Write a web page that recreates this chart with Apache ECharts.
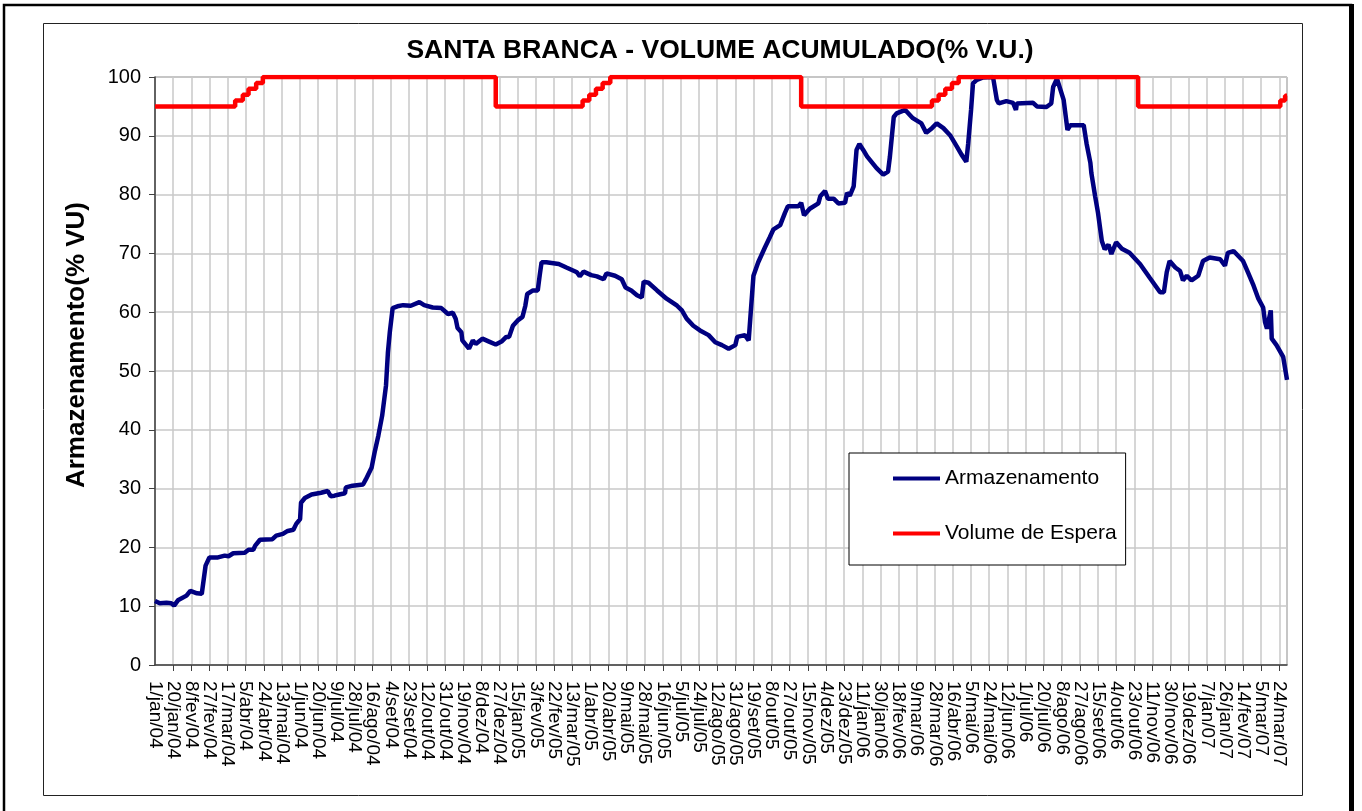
<!DOCTYPE html>
<html>
<head>
<meta charset="utf-8">
<title>Santa Branca - Volume Acumulado</title>
<script src="https://cdn.jsdelivr.net/npm/echarts@6.0.0/dist/echarts.min.js"></script>
<style>
    html, body { margin: 0; padding: 0; background: #fff; }
    #chart { width: 1362px; height: 811px; }
</style>
</head>
<body>
<div id="chart"></div>
<script>
// rótulos do eixo x, um a cada 19 dias a partir de 1/jan/04
var tickLabels = [
    '1/jan/04', '20/jan/04', '8/fev/04', '27/fev/04', '17/mar/04', '5/abr/04', '24/abr/04', '13/mai/04',
    '1/jun/04', '20/jun/04', '9/jul/04', '28/jul/04', '16/ago/04', '4/set/04', '23/set/04', '12/out/04',
    '31/out/04', '19/nov/04', '8/dez/04', '27/dez/04', '15/jan/05', '3/fev/05', '22/fev/05', '13/mar/05',
    '1/abr/05', '20/abr/05', '9/mai/05', '28/mai/05', '16/jun/05', '5/jul/05', '24/jul/05', '12/ago/05',
    '31/ago/05', '19/set/05', '8/out/05', '27/out/05', '15/nov/05', '4/dez/05', '23/dez/05', '11/jan/06',
    '30/jan/06', '18/fev/06', '9/mar/06', '28/mar/06', '16/abr/06', '5/mai/06', '24/mai/06', '12/jun/06',
    '1/jul/06', '20/jul/06', '8/ago/06', '27/ago/06', '15/set/06', '4/out/06', '23/out/06', '11/nov/06',
    '30/nov/06', '19/dez/06', '7/jan/07', '26/jan/07', '14/fev/07', '5/mar/07', '24/mar/07'
];
var tickStep = 19;      // dias entre rótulos
var lastDay = 1186;     // fim do período (dias desde 1/jan/04)

// [dia, % V.U.]
var armazenamento = [
    [0,10.9],[5,10.5],[12,10.6],[17,10.5],[20,10.1],[24,11.0],[33,11.8],[37,12.6],[44,12.2],[49,12.1],
    [51,12.3],[53,16.9],[57,18.3],[66,18.3],[73,18.6],[77,18.5],[82,19.0],[94,19.1],[98,19.6],[103,19.6],
    [105,20.3],[110,21.3],[123,21.4],[127,22.0],[134,22.3],[139,22.8],[145,23.0],[148,24.0],[152,24.8],
    [153,27.6],[157,28.4],[164,29.0],[174,29.3],[181,29.6],[184,28.7],[188,28.8],[193,29.0],[199,29.2],
    [200,30.2],[207,30.5],[218,30.7],[221,31.6],[227,33.6],[230,36.1],[234,39.0],[238,42.4],[242,47.5],
    [244,53.1],[246,56.6],[249,60.7],[254,61.0],[260,61.2],[268,61.1],[277,61.7],[282,61.2],[291,60.8],
    [300,60.7],[307,59.7],[312,59.9],[315,58.9],[317,57.3],[321,56.6],[322,55.2],[329,53.8],[333,55.2],
    [336,54.6],[343,55.5],[350,55.0],[357,54.5],[363,55.0],[368,55.8],[371,55.8],[375,57.7],[380,58.6],
    [385,59.2],[388,61.1],[390,63.1],[396,63.7],[401,63.7],[403,66.2],[405,68.5],[410,68.5],[423,68.2],
    [431,67.6],[442,66.8],[445,66.1],[449,66.9],[457,66.3],[463,66.1],[470,65.6],[473,66.6],[482,66.2],
    [489,65.6],[491,65.9],[493,64.2],[499,63.7],[505,62.9],[510,62.5],[512,65.2],[517,65.0],[526,63.7],
    [536,62.3],[547,61.1],[552,60.3],[557,58.9],[564,57.7],[571,56.9],[580,56.1],[587,54.9],[594,54.4],
    [601,53.8],[608,54.4],[610,55.8],[618,56.1],[622,55.2],[627,66.2],[632,68.5],[639,71.0],[644,72.7],
    [648,74.1],[655,74.8],[660,76.9],[663,78.0],[674,78.0],[677,78.6],[680,76.5],[686,77.6],[695,78.5],
    [697,79.7],[702,80.6],[705,79.3],[711,79.3],[716,78.5],[723,78.6],[725,80.3],[728,79.8],[732,81.4],
    [735,87.6],[738,88.6],[742,87.6],[746,86.5],[756,84.5],[763,83.4],[768,83.9],[770,86.5],[774,93.2],
    [777,93.8],[786,94.4],[794,93.0],[803,92.1],[808,90.5],[814,91.3],[819,92.1],[826,91.3],[833,90.1],
    [840,88.2],[845,86.8],[850,85.6],[852,88.7],[855,94.4],[857,98.9],[861,99.5],[867,99.9],[878,100],
    [880,99.9],[882,96.1],[884,95.5],[892,95.9],[899,95.6],[902,94.4],[903,95.5],[920,95.6],[924,95.0],
    [934,94.9],[939,95.5],[941,98.3],[945,99.7],[947,99.4],[952,96.1],[956,91.0],[959,91.8],[973,91.8],
    [976,88.7],[980,85.4],[981,83.7],[985,79.7],[988,76.9],[992,72.1],[995,70.7],[999,71.5],[1002,69.9],
    [1007,71.9],[1013,70.8],[1021,70.1],[1032,68.2],[1042,65.9],[1053,63.4],[1057,63.4],[1060,66.8],
    [1063,68.7],[1069,67.6],[1074,67.0],[1077,65.4],[1081,66.2],[1086,65.4],[1093,66.2],[1098,68.7],
    [1105,69.3],[1116,69.0],[1121,67.9],[1124,70.1],[1130,70.4],[1140,68.7],[1145,66.8],[1151,64.5],
    [1156,62.3],[1161,60.8],[1163,58.3],[1165,57.2],[1167,57.2],[1169,60.3],[1170,55.5],[1175,54.4],
    [1182,52.4],[1186,48.5]
];

// [dia, % V.U.] - degraus (valor mantido até o próximo ponto)
var volumeEspera = [
    [0,95],[84,96],[92,97],[98,98],[106,99],[113,100],[357,95],[448,96],[455,97],[462,98],[469,99],
    [477,100],[677,95],[814,96],[821,97],[828,98],[835,99],[842,100],[1030,95],[1179,96],[1184,96.8],
    [1186,96.8]
];

function dateLabel(value) {
    var i = value / tickStep;
    return i === Math.floor(i) && tickLabels[i] ? tickLabels[i] : '';
}

var labelStyle = {
    rotate: -90,
    margin: 16,
    fontSize: 19,
    lineHeight: 15,
    color: '#000'
};

var myChart = echarts.init(document.getElementById('chart'));

var option = {
    backgroundColor: '#fff',
    animation: false,
    textStyle: { fontFamily: 'Liberation Sans, Arial, sans-serif', color: '#000' },
    title: {
        text: 'SANTA BRANCA - VOLUME ACUMULADO(% V.U.)',
        left: 715,
        top: 32,
        textAlign: 'center',
        textStyle: { fontSize: 26.5, fontWeight: 'bold', color: '#000' }
    },
    legend: {
        orient: 'vertical',
        left: 849,
        top: 453,
        padding: [15, 9, 21, 44],
        itemGap: 34,
        itemWidth: 47,
        itemHeight: 4,
        icon: 'rect',
        selectedMode: false,
        backgroundColor: '#fff',
        borderColor: '#000',
        borderWidth: 1,
        textStyle: { fontSize: 21, lineHeight: 21, color: '#000' },
        data: ['Armazenamento', 'Volume de Espera']
    },
    grid: {
        left: 155,
        top: 77,
        right: 75,
        bottom: 146,
        show: true,
        borderColor: '#808080',
        borderWidth: 1
    },
    xAxis: [
        {
            type: 'value',
            min: 0,
            max: lastDay,
            interval: tickStep,
            axisLine: { lineStyle: { color: '#404040', width: 1.5 } },
            axisTick: { length: 6, lineStyle: { color: '#404040' } },
            axisLabel: Object.assign({
                showMinLabel: false,
                showMaxLabel: false,
                formatter: dateLabel
            }, labelStyle),
            splitLine: { show: true, lineStyle: { color: '#c8c8c8', width: 1.5 } }
        },
        {
            // só para o primeiro rótulo (1/jan/04), que o eixo principal esconde
            type: 'value',
            position: 'bottom',
            min: 0,
            max: lastDay,
            interval: tickStep,
            axisLine: { show: false },
            axisTick: { show: false },
            splitLine: { show: false },
            axisLabel: Object.assign({
                showMinLabel: true,
                showMaxLabel: false,
                formatter: function (value) { return value === 0 ? tickLabels[0] : ''; }
            }, labelStyle)
        }
    ],
    yAxis: {
        type: 'value',
        min: 0,
        max: 100,
        interval: 10,
        axisLine: { show: true, lineStyle: { color: '#404040', width: 1.5 } },
        axisTick: { show: true, length: 6, lineStyle: { color: '#404040' } },
        axisLabel: { margin: 14, fontSize: 20, color: '#000' },
        splitLine: { show: true, lineStyle: { color: '#c8c8c8', width: 1.5 } }
    },
    graphic: [
        // moldura externa
        { type: 'rect', shape: { x: 4, y: 5, width: 1347, height: 830 }, style: { fill: null, stroke: '#000', lineWidth: 2.5 }, silent: true },
        { type: 'rect', shape: { x: 1349, y: 4, width: 5, height: 820 }, style: { fill: '#000' }, silent: true },
        // área do gráfico
        { type: 'rect', shape: { x: 43.5, y: 23.5, width: 1259, height: 772 }, style: { fill: null, stroke: '#222', lineWidth: 1 }, silent: true },
        {
            type: 'text',
            x: 77,
            y: 345,
            rotation: Math.PI / 2,
            style: {
                text: 'Armazenamento(% VU)',
                fill: '#000',
                font: 'bold 26px "Liberation Sans", Arial, sans-serif',
                align: 'center',
                verticalAlign: 'middle'
            },
            silent: true
        }
    ],
    series: [
        {
            name: 'Armazenamento',
            type: 'line',
            data: armazenamento,
            showSymbol: false,
            color: '#000080',
            lineStyle: { color: '#000080', width: 4.5 },
            z: 2
        },
        {
            name: 'Volume de Espera',
            type: 'line',
            step: 'end',
            data: volumeEspera,
            showSymbol: false,
            color: '#ff0000',
            lineStyle: { color: '#ff0000', width: 4.5 },
            z: 3
        }
    ]
};

myChart.setOption(option);
</script>
</body>
</html>
